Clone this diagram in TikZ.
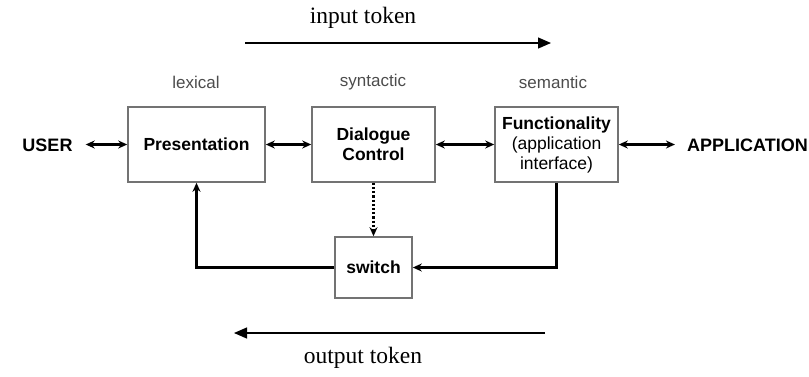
\documentclass[tikz,border=0pt]{standalone}
\usepackage{fontspec}
\setmainfont{Liberation Serif}
\setsansfont{Liberation Sans}
\usetikzlibrary{arrows.meta}

\begin{document}
\begin{tikzpicture}[x=1pt, y=-1pt,
    box/.style = {draw = black!55, line width = 1.6pt, minimum height = 75pt,
                  align = center, font = \sffamily\bfseries\fontsize{17.5}{20}\selectfont},
    side/.style = {inner sep = 0pt, font = \sffamily\bfseries\fontsize{18}{20}\selectfont},
    level/.style = {font = \sffamily\fontsize{17}{19}\selectfont, text = black!70},
    link/.style = {line width = 2.2pt, {Stealth[length=9pt,width=8pt]}-{Stealth[length=9pt,width=8pt]}},
    back/.style = {line width = 2.2pt, -{Stealth[length=9pt,width=8pt]}},
    token/.style = {line width = 1.3pt, -{Triangle[length=13pt,width=11pt]}}]
  \useasboundingbox (0, 0) rectangle (809, 376);

  % the three layers
  \node [box, minimum width = 137pt] (pres) at (196.5, 144.5) {Presentation};
  \node [box, minimum width = 123pt] (dlg) at (373.5, 144.5) {Dialogue\\Control};
  \node [box, minimum width = 123pt, inner sep = 2pt] (func) at (556.5, 144.5)
    {Functionality\\{\mdseries(application}\\{\mdseries interface)}};
  \node [box, minimum width = 77pt, minimum height = 61pt] (sw) at (373.5, 267.5) {switch};

  \node [side, anchor = base] (user) at (47.5, 151) {USER};
  \node [side, anchor = base east] (app) at (808, 151) {APPLICATION};

  \node [level] (lex) at (196, 82) {lexical};
  \node [level] (syn) at (373, 82) {syntactic};
  \node [level] (sem) at (553, 82) {semantic};

  % connectors
  \draw [link] (pres.west -| user.east) ++(13, 0) -- (pres.west);
  \draw [link] (pres.east) -- (dlg.west);
  \draw [link] (dlg.east) -- (func.west);
  \draw [link] (func.east) -- ([xshift=-12pt]func.east -| app.west);
  \draw [back, dotted] (dlg.south) -- (sw.north);
  \draw [back] (func.south) |- (sw.east);
  \draw [back] (sw.west) -| (pres.south);

  % token directions
  \node [font = \fontsize{23.5}{26}\selectfont] (intok) at (363, 18) {input token};
  \node [font = \fontsize{23.5}{26}\selectfont] (outtok) at (363, 358) {output token};
  \coordinate (in-a) at (245, 43);
  \coordinate (in-b) at (551, 43);
  \coordinate (out-a) at (545, 333);
  \coordinate (out-b) at (234, 333);
  \draw [token] (in-a) -- (in-b);
  \draw [token] (out-a) -- (out-b);
\end{tikzpicture}
\end{document}
